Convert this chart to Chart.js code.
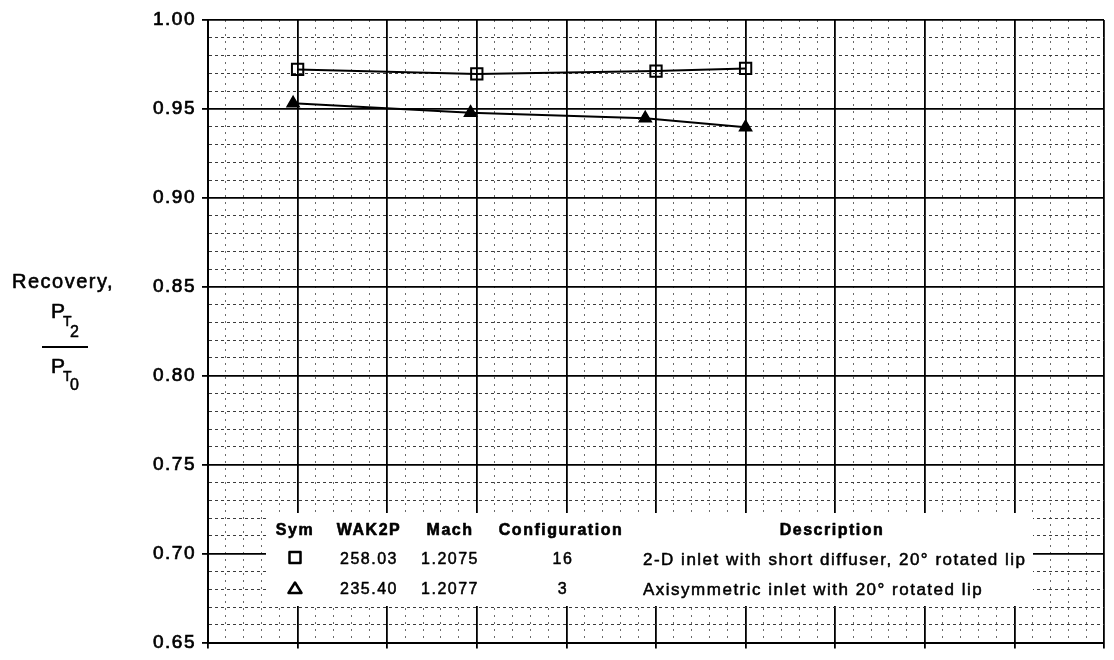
<!DOCTYPE html>
<html>
<head>
<meta charset="utf-8">
<title>Recovery</title>
<script src="https://cdn.jsdelivr.net/npm/chart.js@4/dist/chart.umd.min.js"></script>
<style>
  html, body { margin: 0; padding: 0; background: #fff; }
  canvas { display: block; }
</style>
</head>
<body>
<canvas id="chart" width="1114" height="660"></canvas>
<script>
// Configuration 16 (square symbols)
const squareX = [1.0, 3.0, 5.0, 6.0];
const squareY = [0.9722, 0.9697, 0.9713, 0.9728];

// Configuration 3 (triangle symbols)
const triangleX = [0.95, 2.93, 4.88, 6.0];
const triangleY = [0.9532, 0.9479, 0.9447, 0.9397];

// Axis ranges and labelled ticks
const yTickLabels = ['0.65', '0.70', '0.75', '0.80', '0.85', '0.90', '0.95', '1.00'];
const yMin = 0.65, yMax = 1.00, yMinorStep = 0.01;
const xMin = 0, xMax = 10, xMinorStep = 0.2;

// Key table contents
const keyHeaders = ['Sym', 'WAK2P', 'Mach', 'Configuration', 'Description'];
const keyWak2p = ['258.03', '235.40'];
const keyMach = ['1.2075', '1.2077'];
const keyConfig = ['16', '3'];
const keyDescription = [
  '2-D inlet with short diffuser, 20\u00B0 rotated lip',
  'Axisymmetric inlet with 20\u00B0 rotated lip'
];

const FONT = '"Liberation Sans", Arial, Helvetica, sans-serif';

const isMajorY = v => yTickLabels.includes(v.toFixed(2));
const isMajorX = v => Math.abs(v - Math.round(v)) < 1e-6;

function stepTicks(min, max, step) {
  const n = Math.round((max - min) / step);
  const out = [];
  for (let i = 0; i <= n; i++) out.push({ value: +(min + i * step).toFixed(4) });
  return out;
}

// Filled text with a thin outline so the lettering reads a little heavier
function inkText(ctx, text, x, y, weight) {
  ctx.lineWidth = weight;
  ctx.strokeText(text, x, y);
  ctx.fillText(text, x, y);
}

// Spread glyphs slightly like the typeset lettering
const spacingPlugin = {
  id: 'spacing',
  beforeDraw(chart) {
    chart.ctx.letterSpacing = '1.5px';
  }
};

// Key table over the lower part of the grid, plus the y-axis title
const annotationPlugin = {
  id: 'annotations',
  beforeDatasetsDraw(chart) {
    const ctx = chart.ctx;
    ctx.save();
    ctx.fillStyle = '#fff';
    ctx.fillRect(266, 513, 1033 - 266, 606 - 513);

    ctx.fillStyle = '#000';
    ctx.strokeStyle = '#000';
    ctx.lineJoin = 'round';
    ctx.textBaseline = 'alphabetic';
    ctx.textAlign = 'center';
    ctx.font = 'bold 16px ' + FONT;
    const headerX = [295, 369, 450, 561, 832];
    keyHeaders.forEach((h, i) => inkText(ctx, h, headerX[i], 535, 0.6));

    const rowBase = [564, 594];
    ctx.font = '16px ' + FONT;
    for (let r = 0; r < 2; r++) {
      inkText(ctx, keyWak2p[r], 369, rowBase[r], 0.5);
      inkText(ctx, keyMach[r], 450, rowBase[r], 0.5);
      inkText(ctx, keyConfig[r], 563, rowBase[r], 0.5);
    }
    ctx.font = '17px ' + FONT;
    ctx.textAlign = 'left';
    for (let r = 0; r < 2; r++) {
      inkText(ctx, keyDescription[r], 643, rowBase[r] + 1, 0.5);
    }

    // key symbols
    ctx.lineWidth = 2.5;
    ctx.strokeRect(289.5, 552, 11, 11);
    ctx.beginPath();
    ctx.moveTo(295, 582.5);
    ctx.lineTo(301.5, 593);
    ctx.lineTo(288.5, 593);
    ctx.closePath();
    ctx.stroke();
    ctx.restore();
  },
  afterDraw(chart) {
    const ctx = chart.ctx;
    ctx.save();
    ctx.fillStyle = '#000';
    ctx.strokeStyle = '#000';
    ctx.lineJoin = 'round';
    ctx.textBaseline = 'alphabetic';
    ctx.textAlign = 'center';
    ctx.font = '20px ' + FONT;
    inkText(ctx, 'Recovery,', 63, 288, 0.6);

    ctx.textAlign = 'left';
    // numerator  P_T2
    ctx.font = '21px ' + FONT;
    inkText(ctx, 'P', 51, 318, 0.6);
    ctx.font = '14px ' + FONT;
    inkText(ctx, 'T', 63, 326, 0.5);
    ctx.font = '16px ' + FONT;
    inkText(ctx, '2', 70, 337, 0.5);
    // fraction bar
    ctx.fillRect(42, 346, 46, 2);
    // denominator  P_T0
    ctx.font = '21px ' + FONT;
    inkText(ctx, 'P', 51, 373, 0.6);
    ctx.font = '14px ' + FONT;
    inkText(ctx, 'T', 63, 381, 0.5);
    ctx.font = '16px ' + FONT;
    inkText(ctx, '0', 70, 390, 0.5);
    ctx.restore();
  }
};

const chart = new Chart(document.getElementById('chart'), {
  type: 'line',
  data: {
    datasets: [
      {
        label: 'Configuration 16',
        data: squareX.map((x, i) => ({ x, y: squareY[i] })),
        borderColor: '#000',
        borderWidth: 2,
        pointStyle: 'rect',
        pointRadius: 8,
        pointBorderWidth: 2,
        pointBorderColor: '#000',
        pointBackgroundColor: 'rgba(0,0,0,0)',
        tension: 0,
        fill: false
      },
      {
        label: 'Configuration 3',
        data: triangleX.map((x, i) => ({ x, y: triangleY[i] })),
        borderColor: '#000',
        borderWidth: 2,
        pointStyle: 'triangle',
        pointRadius: 7,
        pointBorderWidth: 1.5,
        pointBorderColor: '#000',
        pointBackgroundColor: '#000',
        tension: 0,
        fill: false
      }
    ]
  },
  options: {
    responsive: false,
    animation: false,
    events: [],
    layout: { padding: { top: 20, right: 4, left: 0, bottom: 0 } },
    plugins: {
      legend: { display: false },
      tooltip: { enabled: false },
      title: { display: false }
    },
    scales: {
      x: {
        type: 'linear',
        min: xMin,
        max: xMax,
        afterBuildTicks: s => { s.ticks = stepTicks(xMin, xMax, xMinorStep); },
        afterFit: s => { s.height = 13; },
        ticks: { display: false, autoSkip: false },
        grid: {
          color: c => (c.tick && isMajorX(c.tick.value)) ? '#000' : '#6a6a6a',
          lineWidth: c => (c.tick && isMajorX(c.tick.value)) ? 1.8 : 1,
          tickColor: c => (c.tick && isMajorX(c.tick.value)) ? '#000' : 'rgba(0,0,0,0)',
          tickLength: 6,
          tickWidth: 1.8
        },
        border: {
          display: true,
          color: '#000',
          width: 2,
          dash: c => (c.tick && !isMajorX(c.tick.value)) ? [2, 5] : []
        }
      },
      y: {
        type: 'linear',
        min: yMin,
        max: yMax,
        afterBuildTicks: s => { s.ticks = stepTicks(yMin, yMax, yMinorStep); },
        afterFit: s => { s.width = 208; },
        ticks: {
          autoSkip: false,
          padding: 6,
          color: '#000',
          textStrokeColor: '#000',
          textStrokeWidth: 0.7,
          font: { family: FONT, size: 19 },
          callback: v => {
            const s = Number(v).toFixed(2);
            return yTickLabels.includes(s) ? s : '';
          }
        },
        grid: {
          color: c => (c.tick && isMajorY(c.tick.value)) ? '#000' : '#3c3c3c',
          lineWidth: c => (c.tick && isMajorY(c.tick.value)) ? 1.8 : 1,
          tickColor: c => (c.tick && isMajorY(c.tick.value)) ? '#000' : 'rgba(0,0,0,0)',
          tickLength: 6,
          tickWidth: 1.8
        },
        border: {
          display: true,
          color: '#000',
          width: 2,
          dash: c => (c.tick && !isMajorY(c.tick.value)) ? [3, 3] : []
        }
      }
    }
  },
  plugins: [spacingPlugin, annotationPlugin]
});
</script>
</body>
</html>
